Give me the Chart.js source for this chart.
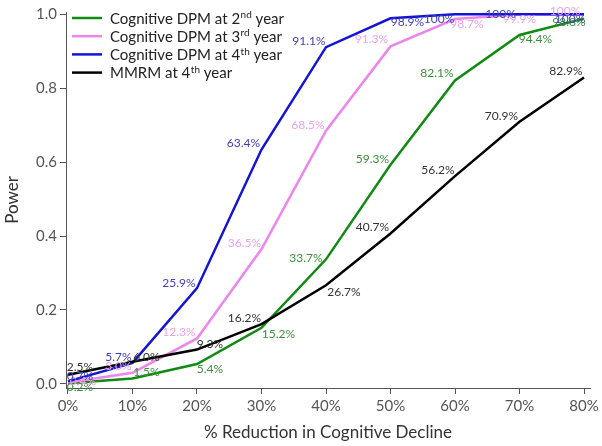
<!DOCTYPE html>
<html><head><meta charset="utf-8">
<script src="https://cdn.jsdelivr.net/npm/chart.js@4.4.0/dist/chart.umd.min.js"></script>
<style>html,body{margin:0;padding:0;background:#fff;overflow:hidden}</style>
</head><body><canvas id="c" width="602" height="446"></canvas>
<script>
// ---- data ----
const reductions = [0, 10, 20, 30, 40, 50, 60, 70, 80];
const xTickLabels = ['0%', '10%', '20%', '30%', '40%', '50%', '60%', '70%', '80%'];
const yTickValues = [0, 0.2, 0.4, 0.6, 0.8, 1.0];
const yTickLabels = ['0.0', '0.2', '0.4', '0.6', '0.8', '1.0'];
const seriesNames = ['Cognitive DPM at 2nd year', 'Cognitive DPM at 3rd year', 'Cognitive DPM at 4th year', 'MMRM at 4th year'];
const dpm2 = [0.2, 1.5, 5.4, 15.2, 33.7, 59.3, 82.1, 94.4, 98.8];
const dpm3 = [0.4, 3.0, 12.3, 36.5, 68.5, 91.3, 98.7, 99.9, 100];
const dpm4 = [0.7, 5.7, 25.9, 63.4, 91.1, 98.9, 100, 100, 100];
const mmrm = [2.5, 6.0, 9.3, 16.2, 26.7, 40.7, 56.2, 70.9, 82.9];
const xAxisTitle = '% Reduction in Cognitive Decline';
const yAxisTitle = 'Power';

// ---- styles ----
const seriesValues = [dpm2, dpm3, dpm4, mmrm];
const lineColors = ['#118a11', '#ec86ec', '#1414d4', '#000000'];
const labelColors = ['#3a8f3a', '#eaa2ea', '#3f3fb8', '#333333'];
const labelOffsets = [
  [[12, 4], [14, -6], [13, 5], [17, 6], [-20, -1], [-18, -6], [-18, -7], [16, 4], [-15, 3]],
  [[15, -1], [-14, -7], [-18, -6], [-17, -6], [-18, -6], [-19, -7], [12, 5], [0, 5], [-19, -3]],
  [[12, -5], [-14, -6], [-18, -5], [-18, -6], [-17, -6], [17, 4], [-16, 5], [-19, 0], [-14, 5]],
  [[12, -8], [14, -5], [13, -5], [-17, -6], [18, 7], [-18, -6], [-17, -6], [-18, -6], [-18, -6]]
];
const FONT = 'Lato';

function fmt(v) { return v === 100 ? '100%' : v.toFixed(1) + '%'; }

const labelPlugin = {
  id: 'pointLabels',
  afterDatasetsDraw(chart) {
    const ctx = chart.ctx;
    ctx.save();
    ctx.font = '12px ' + FONT;
    ctx.textAlign = 'center';
    ctx.textBaseline = 'middle';
    chart.data.datasets.forEach((ds, i) => {
      const meta = chart.getDatasetMeta(i);
      ctx.fillStyle = labelColors[i];
      meta.data.forEach((pt, j) => {
        const off = labelOffsets[i][j];
        ctx.fillText(fmt(seriesValues[i][j]), pt.x + off[0], pt.y + off[1]);
      });
    });
    ctx.restore();
  }
};

const legendPlugin = {
  id: 'supLegend',
  afterDraw(chart) {
    const ctx = chart.ctx;
    ctx.save();
    ctx.textBaseline = 'middle';
    ctx.textAlign = 'left';
    seriesNames.forEach((name, i) => {
      const y = 18 + i * 18.2;
      ctx.strokeStyle = lineColors[i];
      ctx.lineWidth = 2.5;
      ctx.beginPath(); ctx.moveTo(72, y); ctx.lineTo(102, y); ctx.stroke();
      ctx.fillStyle = '#222';
      const m = name.match(/^(.*?\d)(st|nd|rd|th)(.*)$/);
      let x = 110;
      if (m) {
        ctx.font = '15px ' + FONT;
        ctx.fillText(m[1], x, y + 1); x += ctx.measureText(m[1]).width;
        ctx.font = '10px ' + FONT;
        ctx.fillText(m[2], x + 0.5, y - 3); x += ctx.measureText(m[2]).width + 0.5;
        ctx.font = '15px ' + FONT;
        ctx.fillText(m[3], x, y + 1);
      } else {
        ctx.font = '15px ' + FONT;
        ctx.fillText(name, x, y + 1);
      }
    });
    ctx.restore();
  }
};

const datasets = seriesValues.map((vals, i) => ({
  label: seriesNames[i],
  data: reductions.map((r, j) => ({ x: r, y: vals[j] / 100 })),
  borderColor: lineColors[i],
  backgroundColor: lineColors[i],
  borderWidth: 2.5,
  pointRadius: 0,
  tension: 0,
  fill: false,
  order: i === 3 ? 0 : 4 - i
}));

new Chart(document.getElementById('c'), {
  type: 'line',
  data: { datasets },
  plugins: [labelPlugin, legendPlugin],
  options: {
    responsive: false,
    animation: false,
    layout: { padding: { top: 8, right: 12, left: 0, bottom: 0 } },
    plugins: { legend: { display: false }, tooltip: { enabled: false } },
    scales: {
      x: {
        type: 'linear', min: -0.31, max: 80.93,
        afterBuildTicks: s => { s.ticks = reductions.map(v => ({ value: v })); },
        afterFit: s => { s.height = 58; },
        ticks: { callback: (v, idx) => xTickLabels[idx], font: { family: FONT, size: 15 }, color: '#555', padding: 3, maxRotation: 0 },
        grid: { drawOnChartArea: false, tickLength: 6, color: '#555' },
        border: { color: '#555', width: 1 },
        title: { display: true, text: xAxisTitle, font: { family: FONT, size: 17 }, color: '#333', padding: { top: 0, bottom: 3 } }
      },
      y: {
        min: -0.011, max: 1.006,
        afterBuildTicks: s => { s.ticks = yTickValues.map(v => ({ value: v })); },
        afterFit: s => { s.width = 66; },
        ticks: { callback: (v, idx) => yTickLabels[idx], font: { family: FONT, size: 15 }, color: '#555', padding: 3 },
        grid: { drawOnChartArea: false, tickLength: 6, color: '#555' },
        border: { color: '#555', width: 1 },
        title: { display: true, text: yAxisTitle, font: { family: FONT, size: 17 }, color: '#333', padding: { top: 2, bottom: 0 } }
      }
    }
  }
});
</script>
</body></html>
